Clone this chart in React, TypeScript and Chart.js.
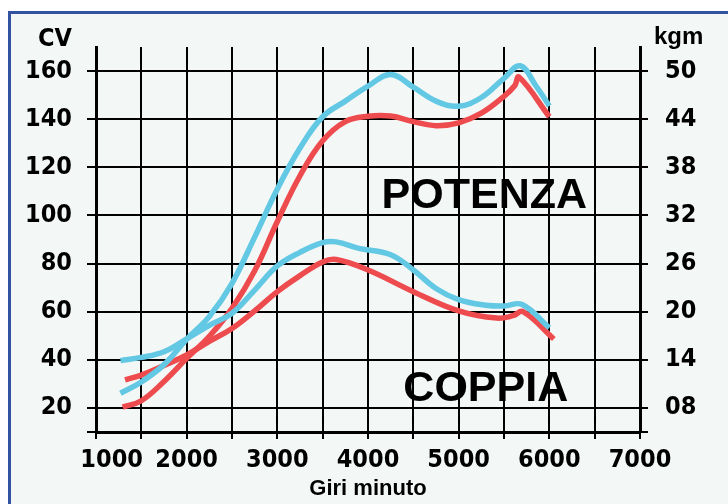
import React, { useEffect, useRef } from "react";
import { Chart, registerables } from "chart.js";

Chart.register(...registerables);

// ---- data ----
const rpmPowerBlue = [1270, 1500, 1750, 2000, 2250, 2500, 2750, 3000, 3250, 3500, 3750, 4000, 4250, 4500, 4750, 5000, 5250, 5500, 5680, 5850, 6000];
const cvPowerBlue = [26.1, 30.8, 38, 48.5, 58, 71.8, 91, 111, 128, 141, 147.5, 153.7, 158.6, 153.3, 147.5, 145.4, 149, 157, 162.2, 154, 145.5];

const rpmPowerRed = [1294, 1500, 1750, 2000, 2250, 2500, 2750, 3000, 3250, 3500, 3750, 4000, 4250, 4500, 4750, 5000, 5250, 5500, 5620, 5665, 6000];
const cvPowerRed = [20.3, 23, 31, 40.6, 49.8, 61.4, 77, 97.5, 116.5, 131, 139, 141.2, 141.3, 139, 137.3, 138.5, 142.5, 149.5, 154, 157.5, 141];

const rpmTorqueBlue = [1270, 1500, 1750, 2000, 2250, 2500, 2750, 3000, 3250, 3500, 3650, 3900, 4250, 4500, 4750, 5000, 5300, 5500, 5700, 6000];
const kgmTorqueBlue = [13.9, 14.3, 15.0, 16.6, 18.3, 19.8, 22.7, 25.7, 27.4, 28.6, 28.7, 27.9, 27.1, 25.2, 22.9, 21.5, 20.8, 20.7, 20.9, 18.0];

const rpmTorqueRed = [1320, 1500, 1750, 2000, 2250, 2500, 2750, 3000, 3250, 3500, 3650, 4000, 4500, 5000, 5420, 5600, 5710, 6050];
const kgmTorqueRed = [11.5, 12.1, 13.3, 14.6, 16.3, 17.9, 20.1, 22.5, 24.5, 26.2, 26.5, 25.2, 22.5, 20.1, 19.2, 19.5, 20.0, 16.6];

const cvTicks = [10, 20, 40, 60, 80, 100, 120, 140, 160];
const kgmTicks = [5, 8, 14, 20, 26, 32, 38, 44, 50];

const BLUE = "#63c8e3";
const RED = "#ee4b4f";
const NARROW = '"Liberation Sans Narrow", "DejaVu Sans Condensed", "Liberation Sans", sans-serif';
const WIDE = '"Liberation Sans", Arial, sans-serif';

const pts = (xs: number[], ys: number[]) => xs.map((x, i) => ({ x, y: ys[i] }));

const textPlugin = {
  id: "texts",
  afterDraw(chart: any) {
    const { ctx, chartArea, scales } = chart;
    ctx.save();
    ctx.fillStyle = "#000";
    ctx.textBaseline = "alphabetic";
    ctx.font = `bold 25px ${NARROW}`;
    ctx.textAlign = "right";
    ctx.fillText("CV", chartArea.left - 24, 46);
    ctx.font = `bold 24px ${WIDE}`;
    ctx.textAlign = "left";
    ctx.fillText("kgm", chartArea.right + 14, 44);
    ctx.font = `bold 43px ${WIDE}`;
    ctx.fillText("POTENZA", scales.x.getPixelForValue(4150), scales.y.getPixelForValue(103.2));
    ctx.fillText("COPPIA", scales.x.getPixelForValue(4390), scales.y.getPixelForValue(22.8));
    ctx.restore();
  },
};

export default function App() {
  const ref = useRef<HTMLCanvasElement>(null);
  useEffect(() => {
    if (!ref.current) return;
    const ds = (label: string, data: any[], color: string, axis: string) => ({
      label,
      data,
      borderColor: color,
      backgroundColor: color,
      borderWidth: 5.5,
      pointRadius: 0,
      fill: false,
      tension: 0.4,
      yAxisID: axis,
    });
    const chart = new Chart(ref.current, {
      type: "line",
      data: {
        datasets: [
          ds("Potenza blu", pts(rpmPowerBlue, cvPowerBlue), BLUE, "y"),
          ds("Coppia blu", pts(rpmTorqueBlue, kgmTorqueBlue), BLUE, "y1"),
          ds("Potenza rossa", pts(rpmPowerRed, cvPowerRed), RED, "y"),
          ds("Coppia rossa", pts(rpmTorqueRed, kgmTorqueRed), RED, "y1"),
        ],
      },
      options: {
        animation: false,
        responsive: true,
        maintainAspectRatio: false,
        layout: { padding: { top: 47, left: 0, right: 0, bottom: 0 } },
        plugins: { legend: { display: false }, tooltip: { enabled: false } },
        scales: {
          x: {
            type: "linear",
            min: 1000,
            max: 7000,
            afterFit: (s: any) => { s.height = 72; },
            ticks: {
              stepSize: 500,
              autoSkip: false,
              maxRotation: 0,
              padding: 6,
              color: "#000",
              font: { family: NARROW, size: 25, weight: "bold" },
              callback: (v: any) => (v % 1000 === 0 ? (v === 1000 ? "    1000" : String(v)) : ""),
            },
            grid: { color: "#000", lineWidth: 2, tickLength: 7 },
            border: { color: "#000", width: 3 },
            title: {
              display: true,
              text: "Giri minuto",
              color: "#000",
              font: { family: WIDE, size: 22, weight: "bold" },
              padding: { top: 0, bottom: 2 },
            },
          },
          y: {
            type: "linear",
            position: "left",
            min: 10,
            max: 170,
            afterFit: (s: any) => { s.width = 96; },
            afterBuildTicks: (s: any) => { s.ticks = cvTicks.map((v) => ({ value: v })); },
            ticks: {
              padding: 15,
              color: "#000",
              font: { family: NARROW, size: 25, weight: "bold" },
              callback: (v: any) => (v === 10 ? "" : String(v)),
            },
            grid: { color: "#000", lineWidth: 2, tickLength: 9 },
            border: { color: "#000", width: 3 },
          },
          y1: {
            type: "linear",
            position: "right",
            min: 5,
            max: 53,
            afterFit: (s: any) => { s.width = 88; },
            afterBuildTicks: (s: any) => { s.ticks = kgmTicks.map((v) => ({ value: v })); },
            ticks: {
              padding: 17,
              color: "#000",
              font: { family: NARROW, size: 25, weight: "bold" },
              callback: (v: any) => (v === 5 ? "" : String(v).padStart(2, "0")),
            },
            grid: { color: "#000", lineWidth: 2, tickLength: 8, drawOnChartArea: false },
            border: { color: "#000", width: 3 },
          },
        },
      },
      plugins: [textPlugin],
    } as any);
    return () => chart.destroy();
  }, []);

  return (
    <div style={{ position: "fixed", left: 0, top: 0, width: 728, height: 504, overflow: "hidden", background: "#fff" }}>
      <div
        style={{
          position: "absolute",
          left: 8,
          top: 11,
          width: 740,
          height: 520,
          border: "3px solid #3452a2",
          background: "#f3f8f6",
        }}
      />
      <div style={{ position: "absolute", left: 0, top: 0, width: 728, height: 504 }}>
        <canvas ref={ref} />
      </div>
    </div>
  );
}
